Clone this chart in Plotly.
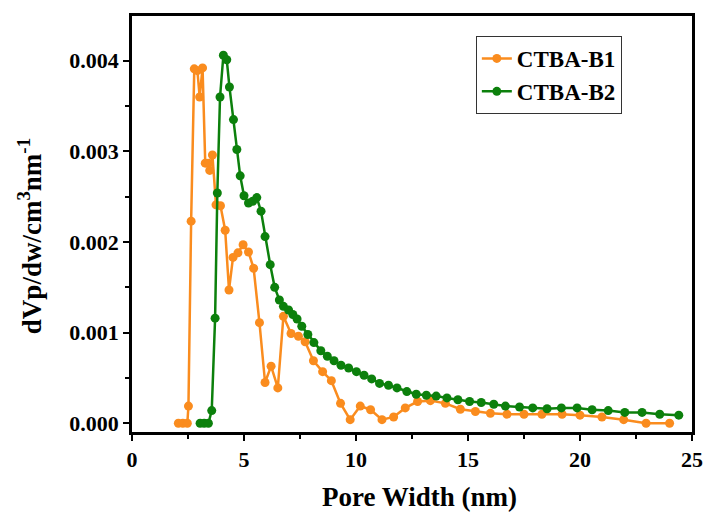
import plotly.graph_objects as go

# CTBA-B1 (orange)
b1_x = [2.07, 2.27, 2.47, 2.52, 2.64, 2.78, 2.92, 3.02, 3.15, 3.27, 3.40, 3.47, 3.59, 3.75, 3.95,
        4.16, 4.33, 4.51, 4.73, 4.96, 5.20, 5.43, 5.69, 5.94, 6.21, 6.51, 6.76, 7.10, 7.43, 7.73,
        8.10, 8.51, 8.90, 9.31, 9.74, 10.19, 10.65, 11.16, 11.68, 12.20, 12.75, 13.32, 13.99,
        14.66, 15.33, 16.00, 16.74, 17.50, 18.30, 19.20, 20.00, 20.98, 21.95, 22.95, 24.00]
b1_y = [0.0, 0.0, 0.0, 0.00019, 0.00223, 0.00391, 0.00389, 0.00360, 0.00392, 0.00287, 0.00287,
        0.00279, 0.00296, 0.00241, 0.00240, 0.00213, 0.00147, 0.00183, 0.00188, 0.00197, 0.00189,
        0.00171, 0.00111, 0.00045, 0.00063, 0.00039, 0.00118, 0.00099, 0.00096, 0.00090, 0.00069,
        0.00057, 0.00047, 0.00022, 0.00004, 0.00019, 0.00015, 0.00004, 0.00007, 0.00017, 0.00024,
        0.00025, 0.00022, 0.000155, 0.00013, 0.00011, 0.00010, 0.00010, 0.00010, 0.00010, 0.00009,
        0.00007, 0.00004, 0.0, 0.0]

# CTBA-B2 (green)
b2_x = [3.04, 3.22, 3.41, 3.56, 3.71, 3.81, 3.93, 4.08, 4.23, 4.35, 4.53, 4.68, 4.83, 5.00, 5.20,
        5.39, 5.57, 5.76, 5.94, 6.17, 6.37, 6.58, 6.76, 6.99, 7.18, 7.37, 7.58, 7.85, 8.12, 8.43,
        8.72, 9.02, 9.33, 9.67, 10.02, 10.36, 10.70, 11.05, 11.45, 11.83, 12.27, 12.69, 13.14,
        13.58, 14.06, 14.55, 15.07, 15.59, 16.15, 16.67, 17.30, 17.89, 18.53, 19.17, 19.87,
        20.54, 21.26, 22.00, 22.77, 23.56, 24.41]
b2_y = [0.0, 0.0, 0.0, 0.00014, 0.00116, 0.00254, 0.00360, 0.00406, 0.00401, 0.00371, 0.00335,
        0.00302, 0.00273, 0.00251, 0.00243, 0.00245, 0.00249, 0.00234, 0.00206, 0.00175, 0.00150,
        0.00136, 0.00129, 0.00125, 0.00120, 0.00115, 0.00107, 0.00098, 0.00089, 0.00080, 0.00074,
        0.00069, 0.00064, 0.00061, 0.00057, 0.00053, 0.00049, 0.00044, 0.00042, 0.00039, 0.00035,
        0.00032, 0.00031, 0.00030, 0.00028, 0.00026, 0.00024, 0.00023, 0.00021, 0.00019, 0.00018,
        0.00017, 0.00016, 0.00017, 0.00017, 0.00015, 0.00014, 0.00012, 0.00012, 0.00010, 0.00009]

y_ticks = [0.0, 0.001, 0.002, 0.003, 0.004]
y_tick_labels = ["0.000", "0.001", "0.002", "0.003", "0.004"]
x_ticks = [0, 5, 10, 15, 20, 25]
x_title = "Pore Width (nm)"
y_title = "dVp/dw/cm<sup>3</sup>nm<sup>-1</sup>"

ORANGE = "#FA8C1E"
GREEN = "#0C800C"
FONT = "Liberation Serif"

fig = go.Figure()
fig.add_trace(go.Scatter(x=b1_x, y=b1_y, mode="lines+markers", name="CTBA-B1",
                         line=dict(color=ORANGE, width=2.5),
                         marker=dict(color=ORANGE, size=9, symbol="circle")))
fig.add_trace(go.Scatter(x=b2_x, y=b2_y, mode="lines+markers", name="CTBA-B2",
                         line=dict(color=GREEN, width=2.5),
                         marker=dict(color=GREEN, size=9, symbol="circle")))

axis_common = dict(showgrid=False, zeroline=False, showline=True, linecolor="black",
                   linewidth=2.5, mirror=True, ticks="outside", ticklen=6, tickwidth=2,
                   tickcolor="black", automargin=False, ticklabeloverflow="allow",
                   tickfont=dict(family=FONT, size=22, color="black", weight="bold"))

fig.update_xaxes(range=[0, 25], tickvals=x_ticks,
                 minor=dict(dtick=2.5, ticks="outside", ticklen=4, tickwidth=2, tickcolor="black"),
                 **axis_common)
fig.update_yaxes(range=[-0.000096, 0.004493], tickvals=y_ticks, ticktext=y_tick_labels,
                 minor=dict(dtick=0.0005, tick0=0, ticks="outside", ticklen=4, tickwidth=2,
                            tickcolor="black"),
                 **axis_common)

# Axis titles placed as annotations (positions relative to plot area)
fig.add_annotation(text=x_title, xref="paper", yref="paper", x=0.514, y=-0.156,
                   xanchor="center", yanchor="middle", showarrow=False,
                   font=dict(family=FONT, size=27, color="black", weight="bold"))
fig.add_annotation(text=y_title, xref="paper", yref="paper", x=-0.182, y=0.471,
                   xanchor="center", yanchor="middle", showarrow=False, textangle=-90,
                   font=dict(family=FONT, size=27, color="black", weight="bold"))

fig.update_layout(
    width=705, height=512,
    margin=dict(l=132, r=13, t=16, b=80),
    paper_bgcolor="white", plot_bgcolor="white",
    showlegend=True,
    legend=dict(x=0.614, y=0.952, xanchor="left", yanchor="top",
                bordercolor="#333333", borderwidth=1, bgcolor="white",
                font=dict(family=FONT, size=23, color="black", weight="bold"),
                tracegroupgap=0),
)

# Remove the default 8px page margin so the figure sits at the window's origin.
fig.write_html("out.html", config={"displayModeBar": False},
               post_script="document.body.style.margin='0';document.body.style.overflow='hidden';")
